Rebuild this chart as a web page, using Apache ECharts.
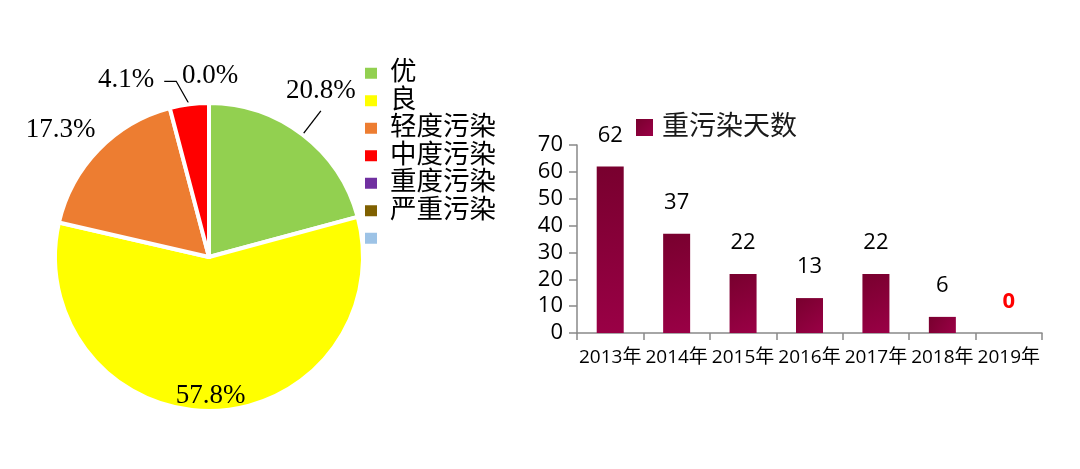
<!DOCTYPE html>
<html>
<head>
<meta charset="utf-8">
<script src="https://cdn.jsdelivr.net/npm/echarts@6/dist/echarts.min.js"></script>
<style>
  html, body { margin: 0; padding: 0; background: #fff; }
  #main { width: 1080px; height: 469px; }
</style>
</head>
<body>
<div id="main"></div>
<script>
// 空气质量等级占比
var levelNames = ['优', '良', '轻度污染', '中度污染', '重度污染', '严重污染', ' '];
var levelShares = [20.8, 57.8, 17.3, 4.1, 0.0, 0.0, 0];
var levelColors = ['#92D050', '#FFFF00', '#ED7D31', '#FF0000', '#7030A0', '#7F6000', '#9DC3E6'];
// 历年重污染天数
var years = ['2013年', '2014年', '2015年', '2016年', '2017年', '2018年', '2019年'];
var heavyDays = [62, 37, 22, 13, 22, 6, 0];
var yTicks = [0, 10, 20, 30, 40, 50, 60, 70];

var pieCenter = [209, 257];
var pieRadius = 154;
var serif = '"Liberation Serif", "Noto Sans CJK SC", serif';
var sans = '"Open Sans", "Noto Sans CJK SC", sans-serif';

var myChart = echarts.init(document.getElementById('main'));

var pieData = levelNames.map(function (name, i) {
  var item = { name: name, value: levelShares[i], itemStyle: { color: levelColors[i] } };
  if (i === 0) item.labelLine = { length: 30, length2: 0 };
  if (i === 1) item.label = { position: 'inside' };
  if (i === 2 || i === 4) item.labelLine = { show: false, length: 0, length2: 0 };
  if (i >= 5) { item.label = { show: false }; item.labelLine = { show: false }; }
  return item;
});

var option = {
  animation: false,
  backgroundColor: '#fff',
  legend: [{
    orient: 'vertical',
    left: 363,
    top: 60,
    padding: 0,
    itemWidth: 14,
    itemHeight: 13,
    itemGap: 1,
    icon: 'rect',
    data: levelNames,
    selectedMode: false,
    textStyle: { fontFamily: serif, fontSize: 26.5, lineHeight: 26.5, color: '#000', padding: [0, 0, 0, 7] }
  }, {
    left: 636,
    top: 114,
    padding: 0,
    itemWidth: 17,
    itemHeight: 17,
    icon: 'rect',
    data: ['重污染天数'],
    selectedMode: false,
    textStyle: { fontFamily: sans, fontSize: 27, color: '#1a1a1a', padding: [0, 0, 0, 4] }
  }],
  grid: { left: 577, right: 38, top: 145, bottom: 136 },
  xAxis: {
    type: 'category',
    data: years,
    axisLine: { lineStyle: { color: '#898989', width: 1.5 } },
    axisTick: { show: true, length: 7, lineStyle: { color: '#898989', width: 1.5 } },
    axisLabel: { fontFamily: sans, fontSize: 19, color: '#000', margin: 15, interval: 0 }
  },
  yAxis: {
    type: 'value',
    min: yTicks[0],
    max: yTicks[yTicks.length - 1],
    interval: 10,
    axisLine: { show: true, lineStyle: { color: '#898989', width: 1.5 } },
    axisTick: { show: true, length: 8, lineStyle: { color: '#898989', width: 1.5 } },
    axisLabel: { fontFamily: sans, fontSize: 22, color: '#000', margin: 14 },
    splitLine: { show: false }
  },
  series: [{
    name: '空气质量',
    type: 'pie',
    center: pieCenter,
    radius: pieRadius,
    startAngle: 90,
    avoidLabelOverlap: false,
    legendHoverLink: false,
    emphasis: { disabled: true },
    itemStyle: { borderColor: '#fff', borderWidth: 4 },
    label: {
      show: true,
      position: 'outside',
      fontFamily: serif,
      fontSize: 27,
      color: '#000',
      formatter: function (p) { return p.value.toFixed(1) + '%'; }
    },
    labelLine: { show: true, length: 28, length2: 12, smooth: false, lineStyle: { color: '#000', width: 1.3 } },
    labelLayout: function (p) {
      var i = p.dataIndex;
      var pts = p.labelLinePoints;
      if (i === 0 && pts) {
        return {
          x: pts[1][0], y: pts[1][1] - 6, align: 'center', verticalAlign: 'bottom',
          labelLinePoints: [pts[0].slice(), pts[1].slice(), pts[1].slice()]
        };
      }
      if (i === 1) return { dy: 59 };
      if (i === 2) return { dx: 2, dy: -20 };
      if (i === 3 && pts) {
        var s = pts[0];
        return {
          x: s[0] - 35, y: s[1] - 24, align: 'right', verticalAlign: 'middle',
          labelLinePoints: [[s[0], s[1]], [s[0] - 13, s[1] - 23], [s[0] - 25, s[1] - 23]]
        };
      }
      if (i === 4) {
        return { x: pieCenter[0] + 1, y: pieCenter[1] - pieRadius - 27, align: 'center', verticalAlign: 'middle' };
      }
    },
    data: pieData
  }, {
    name: '重污染天数',
    type: 'bar',
    barWidth: 27,
    data: heavyDays.map(function (v, i) {
      var d = { value: v };
      if (i === heavyDays.length - 1) d.label = { color: '#FF0000', fontWeight: 'bold' };
      return d;
    }),
    itemStyle: {
      color: new echarts.graphic.LinearGradient(0, 0, 1, 1, [
        { offset: 0, color: '#78002E' },
        { offset: 1, color: '#9A0046' }
      ])
    },
    label: { show: true, position: 'top', distance: 20, fontFamily: sans, fontSize: 22, color: '#000' }
  }]
};
myChart.setOption(option);
window.addEventListener('resize', function () {
  myChart.resize();
});
</script>
</body>
</html>
